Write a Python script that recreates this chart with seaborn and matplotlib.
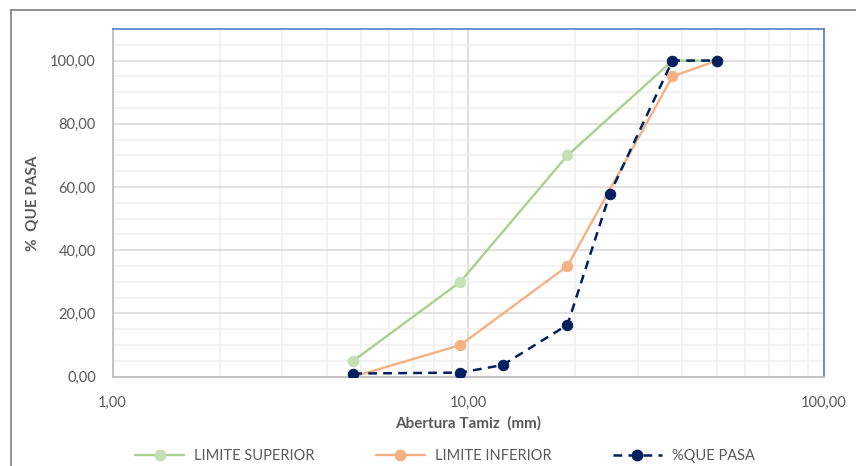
import matplotlib
matplotlib.use("Agg")
import matplotlib.pyplot as plt
import seaborn as sns
import pandas as pd
import numpy as np
from matplotlib.ticker import FixedLocator, FuncFormatter, NullFormatter
from matplotlib.lines import Line2D

# Data
x_limits = [4.75, 9.5, 19.0, 37.5, 50.0]
lim_sup = [5, 30, 70, 100, 100]
lim_inf = [0, 10, 35, 95, 100]
x_pasa = [4.75, 9.5, 12.5, 19.0, 25.0, 37.5, 50.0]
pasa = [1.0, 1.3, 3.7, 16.4, 57.8, 100, 100]

sns.set_style("white")
plt.rcParams['font.family'] = ['Lato', 'DejaVu Sans']

GREY = "#595959"
GREEN = "#A9D18E"
GREEN_M = "#C5E0B4"
ORANGE = "#F4B183"
NAVY = "#002060"

fig = plt.figure(figsize=(8.56, 4.66), dpi=100)
ax = fig.add_axes([112.5/856, 1-376.7/466, (824-112.5)/856, (376.7-29)/466])

df_sup = pd.DataFrame({"x": x_limits, "y": lim_sup})
df_inf = pd.DataFrame({"x": x_limits, "y": lim_inf})
df_pasa = pd.DataFrame({"x": x_pasa, "y": pasa})

sns.lineplot(data=df_sup, x="x", y="y", ax=ax, color=GREEN, lw=1.7, marker="o",
             markersize=7.5, markerfacecolor=GREEN_M, markeredgecolor=GREEN_M, zorder=3)
sns.lineplot(data=df_inf, x="x", y="y", ax=ax, color=ORANGE, lw=1.7, marker="o",
             markersize=7.5, markerfacecolor=ORANGE, markeredgecolor=ORANGE, zorder=4)
sns.lineplot(data=df_pasa, x="x", y="y", ax=ax, color=NAVY, lw=1.8, marker="o",
             markersize=7.5, markerfacecolor=NAVY, markeredgecolor=NAVY, zorder=5)
ax.lines[-1].set_linestyle((0, (3.5, 2.5)))

ax.set_xscale("log")
ax.set_xlim(1, 100)
ax.set_ylim(0, 110)

ax.xaxis.set_major_locator(FixedLocator([1, 10, 100]))
ax.xaxis.set_major_formatter(FuncFormatter(lambda v, p: f"{v:.2f}".replace(".", ",")))
minors = [m * d for d in (1, 10) for m in range(2, 10)]
ax.xaxis.set_minor_locator(FixedLocator(minors))
ax.xaxis.set_minor_formatter(NullFormatter())
ax.yaxis.set_major_locator(FixedLocator([0, 20, 40, 60, 80, 100]))
ax.yaxis.set_major_formatter(FuncFormatter(lambda v, p: f"{v:.2f}".replace(".", ",")))
ax.yaxis.set_minor_locator(FixedLocator([5, 10, 15, 25, 30, 35, 45, 50, 55, 65, 70, 75, 85, 90, 95, 105]))

ax.grid(which="major", color="#D9D9D9", lw=1.1)
ax.grid(which="minor", color="#EFEFEF", lw=1.1)
ax.set_axisbelow(True)

ax.tick_params(axis="both", which="both", length=0, labelsize=10.5, colors=GREY)
ax.tick_params(axis="x", pad=14)
ax.tick_params(axis="y", pad=12)

for s in ("top", "right"):
    ax.spines[s].set_color("#4472C4")
    ax.spines[s].set_linewidth(1.1)
for s in ("left", "bottom"):
    ax.spines[s].set_color("#BFBFBF")
    ax.spines[s].set_linewidth(1.3)

ax.set_xlabel("Abertura Tamiz  (mm)", fontsize=11, fontweight="bold", color=GREY, labelpad=4)
ax.set_ylabel("%  QUE PASA", fontsize=11, fontweight="bold", color=GREY, labelpad=7)

handles = [
    Line2D([], [], color=GREEN, lw=1.7, marker="o", markersize=7.5,
           markerfacecolor=GREEN_M, markeredgecolor=GREEN_M),
    Line2D([], [], color=ORANGE, lw=1.7, marker="o", markersize=7.5,
           markerfacecolor=ORANGE, markeredgecolor=ORANGE),
    Line2D([], [], color=NAVY, lw=1.8, marker="o", markersize=7.5,
           markerfacecolor=NAVY, markeredgecolor=NAVY, linestyle=(0, (3.5, 2.5))),
]
fig.legend(handles, ["LIMITE SUPERIOR", "LIMITE INFERIOR", "%QUE PASA"],
           loc="center", bbox_to_anchor=(445/856, 1-456/466), ncol=3, frameon=False,
           fontsize=10.5, labelcolor=GREY, handlelength=3.35, columnspacing=4.2,
           handletextpad=0.7, borderpad=0)

# outer chart border
fig.add_artist(Line2D([11/856, 11/856], [0, 1-9.5/466], transform=fig.transFigure,
                      color="#7F7F7F", lw=1.2))
fig.add_artist(Line2D([11/856, 1], [1-9.5/466, 1-9.5/466], transform=fig.transFigure,
                      color="#7F7F7F", lw=1.2))

fig.savefig("out.png", dpi=100)
